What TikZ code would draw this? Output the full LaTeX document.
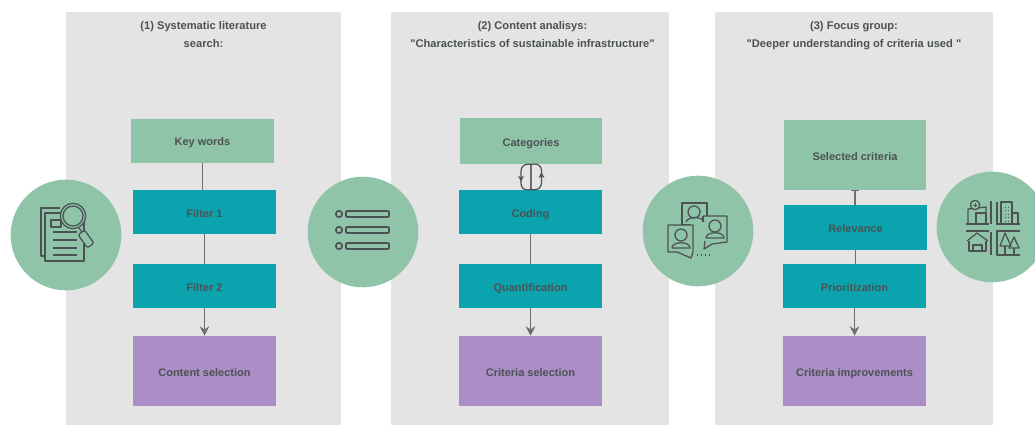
\documentclass[tikz,border=0pt]{standalone}
\usepackage{fontspec}
\setmainfont{Liberation Sans}
\newfontfamily\plainquotes[Ligatures=NoCommon]{Liberation Sans}
\usetikzlibrary{arrows.meta}
\usetikzlibrary{decorations.markings}

\definecolor{panelgray}{HTML}{E4E4E4}
\definecolor{softgreen}{HTML}{8FC4A8}
\definecolor{tealfill}{HTML}{0BA3AD}
\definecolor{softpurple}{HTML}{AB8EC6}
\definecolor{inkgray}{HTML}{4C5254}
\definecolor{linkgray}{HTML}{6E6E6E}

\tikzset{
    panel/.style={fill=panelgray, draw=none, minimum width=208.5pt, minimum height=310pt, inner sep=0pt},
    paneltitle/.style={text=inkgray, align=center, font=\plainquotes\fontsize{8.35}{13.5}\selectfont\bfseries},
    box/.style={draw=none, text=inkgray, minimum width=107pt, minimum height=33pt, inner sep=0pt, text height=7.5pt, text depth=0pt, font=\fontsize{8.25}{10}\selectfont\bfseries},
    greenbox/.style={box, fill=softgreen},
    tealbox/.style={box, fill=tealfill},
    purplebox/.style={box, fill=softpurple, minimum height=52.5pt},
    badge/.style={circle, fill=softgreen, draw=none, minimum size=83pt, inner sep=0pt},
    link/.style={draw=linkgray, line width=0.9pt},
    arrowlink/.style={link, line width=1.1pt, -{Stealth[length=7pt,width=7pt]}},
    icon/.style={draw=inkgray, line width=0.95pt, line join=round},
    looparc/.style={draw=inkgray, line width=0.9pt, rounded corners=5pt, postaction={decorate}, decoration={markings, mark=at position 0.62 with {\arrow{Stealth[length=4.5pt,width=4.5pt]}}}},
}

\begin{document}
\begin{tikzpicture}[x=0.75pt, y=-0.75pt, >=Stealth]

    \useasboundingbox (0,0) rectangle (1035,425);

    \node[panel, minimum width=206pt] (panelA) at (203.5,218.5) {};
    \node[panel] (panelB) at (530,218.5) {};
    \node[panel] (panelC) at (854,218.5) {};

    \node[paneltitle] (titleA) at (203.5,35) {(1) Systematic literature\\search:};
    \node[paneltitle] (titleB) at (532.5,35) {(2) Content analisys:\\"Characteristics of sustainable infrastructure"};
    \node[paneltitle] (titleC) at (854,36) {(3) Focus group:\\"Deeper understanding of criteria used "};

    \node[greenbox] (keywords) at (202.5,140.5) {Key words};
    \node[tealbox] (filterA) at (204.5,212) {Filter 1};
    \node[tealbox] (filterB) at (204.5,286) {Filter 2};
    \node[purplebox] (content) at (204.5,371) {Content selection};

    \node[greenbox, minimum height=34.5pt] (categories) at (531,141) {Categories};
    \node[tealbox] (coding) at (530.5,212) {Coding};
    \node[tealbox] (quant) at (530.5,286) {Quantification};
    \node[purplebox] (criteria) at (530.5,371) {Criteria selection};

    \node[greenbox, minimum height=52.5pt] (selected) at (855,155) {Selected criteria};
    \node[tealbox, minimum height=34pt] (relevance) at (855.5,227.5) {Relevance};
    \node[tealbox] (priority) at (854.5,286) {Prioritization};
    \node[purplebox] (improve) at (854.5,371) {Criteria improvements};

    \draw[link] (keywords.south) -- (keywords.south |- filterA.north);
    \draw[link] (filterA.south) -- (filterA.south |- filterB.north);
    \draw[arrowlink] (filterB.south) -- (filterB.south |- content.north);

    \draw[link] (categories.south) -- (categories.south |- coding.north);
    \draw[looparc] (categories.south) -- ++(-10,0) -- ++(0,26) -- (coding.north);
    \draw[looparc] (coding.north) -- ++(11,0) -- ++(0,-26) -- (categories.south);
    \draw[link] (coding.south) -- (coding.south |- quant.north);
    \draw[arrowlink] (quant.south) -- (quant.south |- criteria.north);

    \draw[link, {Bar[width=6pt,line width=0.8pt]}-] (selected.south) -- (selected.south |- relevance.north);
    \draw[link] (relevance.south) -- (relevance.south |- priority.north);
    \draw[arrowlink] (priority.south) -- (priority.south |- improve.north);

    \node[badge] (badgeA) at (66,235) {};
    \node[badge] (badgeB) at (363,232) {};
    \node[badge] (badgeC) at (698,231) {};
    \node[badge] (badgeD) at (992,227) {};

    \draw[icon] (60,208) -- (41,208) -- (41,256) -- (45,256);
    \draw[icon] (45,213) rectangle (84,261);
    \draw[icon] (51,220) rectangle (61,227);
    \foreach \y in {232,240,248,255}
        \draw[icon] (53,\y) -- (77,\y);
    \draw[icon] (79,228) -- (82,232);
    \draw[icon, fill=softgreen] (73,216) circle (9.5pt);
    \draw[icon] (73,216) circle (7.5pt);
    \draw[icon, fill=softgreen, rounded corners=1.5pt, rotate around={35:(86,239)}] (82,231) rectangle (90,247);

    \foreach \y in {214,230,246} {
        \draw[icon, line width=1.2pt] (339,\y) circle (2.4pt);
        \draw[icon, line width=1.2pt, rounded corners=0.5pt] (346,\y-3) rectangle (389,\y+3);
    }

    \draw[icon] (690,225) -- (682,225) -- (682,203) -- (707,203) -- (707,216);
    \draw[icon] (703,216) -- (727,216) -- (727,242) -- (712,244) -- (704,249) -- (705,241);
    \draw[icon] (703,216) -- (703,222);
    \draw[icon, fill=softgreen] (668,225) -- (693,225) -- (693,252) -- (691,258) -- (677,252) -- (668,252) -- cycle;
    \draw[icon] (694,212) circle (4.5pt);
    \draw[icon] (686,222) .. controls (688,216) and (702,216) .. (704,222);
    \draw[icon] (715,226) circle (4.5pt);
    \draw[icon] (706,238) .. controls (706,231) and (724,231) .. (724,238) -- (706,238);
    \draw[icon] (681,235) circle (4.5pt);
    \draw[icon] (672,248) .. controls (672,241) and (690,241) .. (690,248) -- (672,248);
    \draw[icon, dotted, line width=1pt] (697,255) -- (710,255);

    \draw[icon] (966,224) -- (989,224);
    \draw[icon] (966,231) -- (989,231);
    \draw[icon] (996,224) -- (1020,224);
    \draw[icon] (996,231) -- (1020,231);
    \draw[icon] (991,201) -- (991,224);
    \draw[icon] (991,232) -- (991,255);
    \draw[icon] (968,224) -- (968,209) -- (986,207) -- (986,224);
    \draw[icon, fill=softgreen] (975,205) circle (3.5pt);
    \draw[icon, line width=0.6pt] (973,205) -- (977,205) (975,203) -- (975,207);
    \draw[icon] (976,224) rectangle (986,213);
    \draw[icon] (997,224) -- (997,202);
    \draw[icon] (1001,224) -- (1001,202) -- (1012,202) -- (1012,224);
    \draw[icon] (1012,213) -- (1018,213) -- (1018,224);
    \draw[icon, line width=0.6pt, dotted] (1005,207) -- (1005,222) (1008,207) -- (1008,222);
    \draw[icon] (967,241) -- (977,233) -- (988,241);
    \draw[icon] (969,241) -- (969,251) -- (986,251) -- (986,241);
    \draw[icon] (973,251) -- (973,245) -- (982,245) -- (982,251);
    \draw[icon] (997,232) -- (997,255) -- (1020,255);
    \draw[icon] (1005,233) -- (1000,246) -- (1011,246) -- cycle;
    \draw[icon] (1014,237) -- (1009,248) -- (1019,248) -- cycle;
    \draw[icon] (1005,246) -- (1005,255);
    \draw[icon] (1014,248) -- (1014,255);

\end{tikzpicture}
\end{document}
